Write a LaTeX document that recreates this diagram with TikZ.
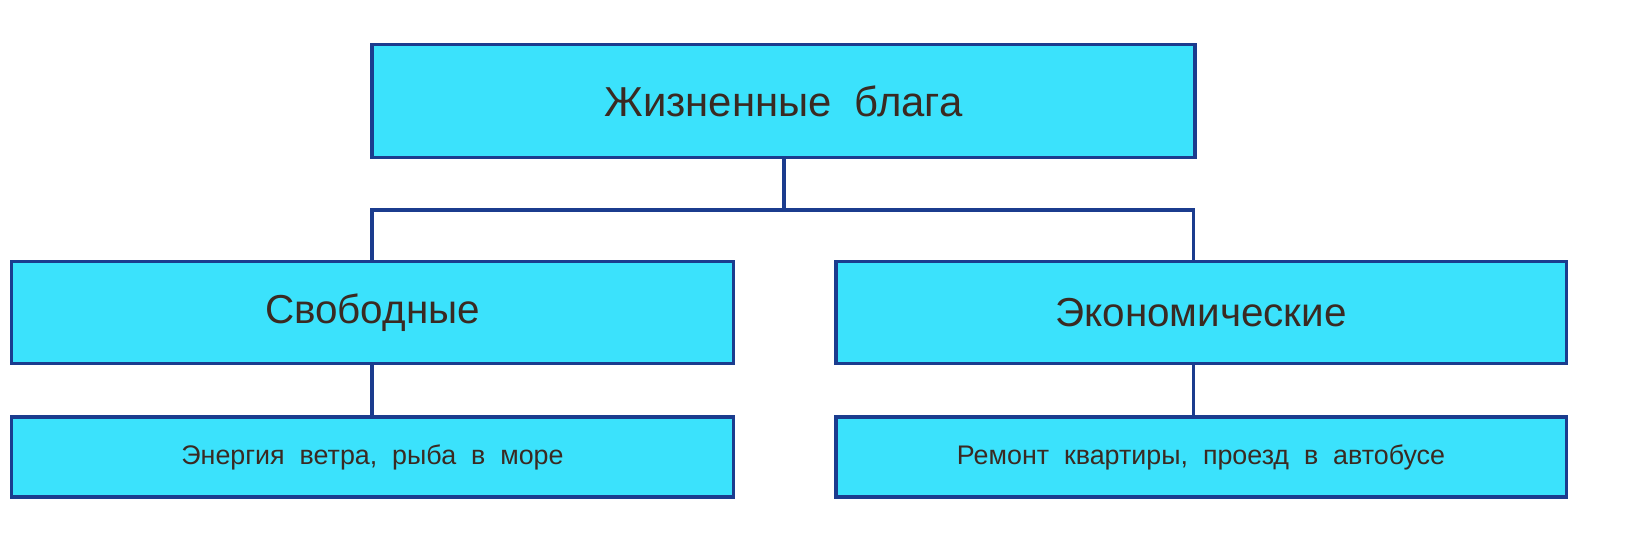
\documentclass[tikz,border=0pt]{standalone}
\usepackage{fontspec}
\setmainfont{Liberation Sans}
\definecolor{boxfill}{HTML}{3BE2FC}
\definecolor{boxline}{HTML}{1B3C8E}
\definecolor{txt}{HTML}{3A2A22}
\begin{document}
\begin{tikzpicture}[x=0.3463pt,y=-0.3463pt,
  box/.style={draw=boxline,line width=1.05pt,fill=boxfill,text=txt,inner sep=0pt},
  conn/.style={draw=boxline,line width=1.05pt}]
\useasboundingbox (0,0) rectangle (1643,556);
\fill[white] (0,0) rectangle (1643,556);
\draw[conn] (784,157) -- (784,210) coordinate (m);
\draw[conn] (372,262) |- (m) -| (1193,262);
\draw[conn] (372,363) -- (372,417);
\draw[conn] (1193,363) -- (1193,417);
\node[box,minimum width=285pt,minimum height=38.8pt] (top) at (783.5,101) {\fontsize{14.5}{17}\selectfont Жизненные\ \ блага};
\node[box,minimum width=249.7pt,minimum height=35pt] (free) at (372.5,312.5) {\fontsize{14}{17}\selectfont Свободные};
\node[box,minimum width=252.8pt,minimum height=35pt] (econ) at (1201,312.5) {\fontsize{14}{17}\selectfont Экономические};
\node[box,minimum width=249.7pt,minimum height=27.7pt] (fex) at (372.5,457) {\fontsize{9.3}{11}\selectfont Энергия\ \ ветра,\ \ рыба\ \ в\ \ море};
\node[box,minimum width=252.8pt,minimum height=27.7pt] (eex) at (1201,457) {\fontsize{9.3}{11}\selectfont Ремонт\ \ квартиры,\ \ проезд\ \ в\ \ автобусе};
\end{tikzpicture}
\end{document}
